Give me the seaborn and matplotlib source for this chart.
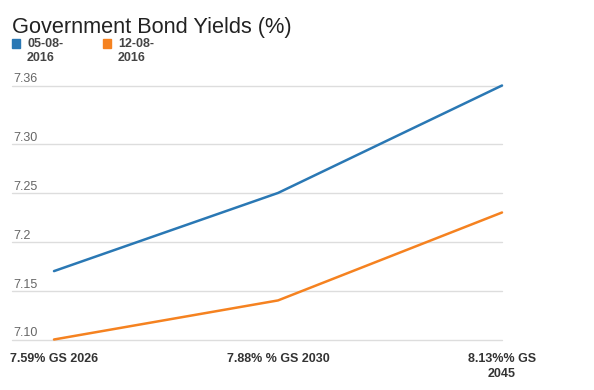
import pandas as pd
import matplotlib.pyplot as plt
import seaborn as sns
from matplotlib.patches import Rectangle

# Chart data
bonds = ['7.59% GS 2026', '7.88% % GS 2030', '8.13%% GS\n2045']
dates = ['05-08-2016', '12-08-2016']
yield_0508 = [7.17, 7.25, 7.36]
yield_1208 = [7.10, 7.14, 7.23]
ytick_vals = [7.10, 7.15, 7.20, 7.25, 7.30, 7.36]
ytick_labels = ['7.10', '7.15', '7.2', '7.25', '7.30', '7.36']
colors = ['#2a78b4', '#f58220']

data = pd.DataFrame({
    'Bond': bonds * 2,
    'Date': [dates[0]] * 3 + [dates[1]] * 3,
    'Yield': yield_0508 + yield_1208,
})
data['pos'] = data['Bond'].map({b: i for i, b in enumerate(bonds)})

sns.set_style('white')
plt.rcParams['font.family'] = ['Liberation Sans', 'DejaVu Sans']

W, H = 594, 390
fig = plt.figure(figsize=(W / 100, H / 100), dpi=100)
ax = fig.add_axes([12 / W, 1 - 339.5 / H, (502 - 12) / W, (339.5 - 85.5) / H])

sns.lineplot(data=data, x='pos', y='Yield', hue='Date', palette=colors,
             linewidth=1.8, legend=False, ax=ax, clip_on=False)

ax.set_xlim(-0.1875, 2)
ax.set_ylim(7.10, 7.36)
ax.set_yticks(ytick_vals)
ax.set_yticklabels(ytick_labels, ha='left', va='bottom', color='#666666', fontsize=9)
ax.tick_params(axis='y', length=0, pad=-1)
ax.set_xticks(range(len(bonds)))
ax.set_xticklabels(bonds, fontsize=9, fontweight='bold', color='#333333', va='top',
                   linespacing=1.3)
ax.tick_params(axis='x', length=0, pad=10)
ax.grid(axis='y', color='#dddddd', linewidth=1, clip_on=False)
ax.set_xlabel('')
ax.set_ylabel('')
for s in ax.spines.values():
    s.set_visible(False)

# Title
fig.text(12 / W, 1 - 33 / H, 'Government Bond Yields (%)', fontsize=15.7,
         color='#222222', va='baseline', ha='left')

# Legend
for i, (d, c) in enumerate(zip(dates, colors)):
    x0 = 12 + i * 91
    fig.patches.append(Rectangle((x0 / W, 1 - 47.5 / H), 8 / W, 8 / H,
                                 transform=fig.transFigure, color=c, figure=fig))
    fig.text((x0 + 15) / W, 1 - 38 / H, d[:6] + '\n' + d[6:], fontsize=9,
             fontweight='bold', color='#444444', va='top', ha='left', linespacing=1.2)

fig.savefig('out.png', dpi=100)
